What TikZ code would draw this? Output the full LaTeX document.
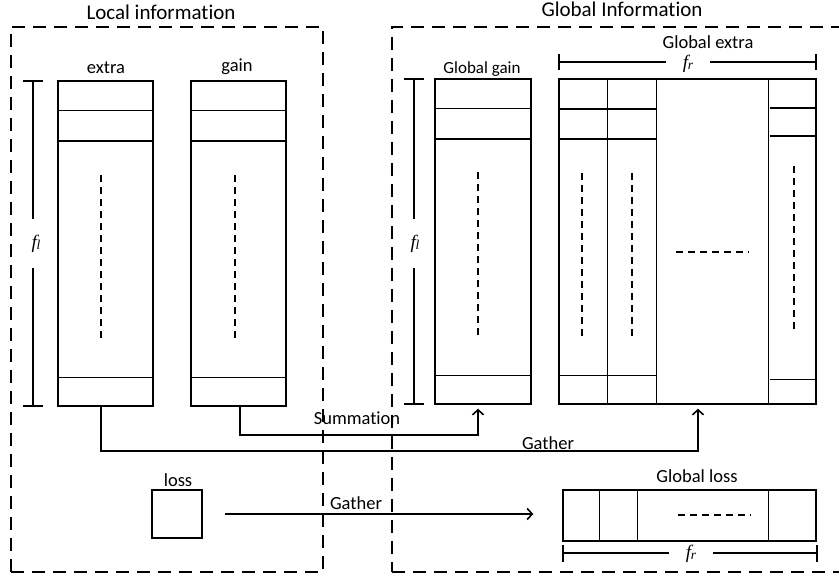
\documentclass[tikz,border=0pt]{standalone}
\usepackage{fontspec}
\setmainfont{Carlito}[Ligatures=NoCommon]
\newfontfamily\seriffont{Liberation Serif}
\usetikzlibrary{arrows.meta}
\newcommand{\fsym}[1]{{\seriffont\itshape\fontsize{19}{19}\selectfont f\kern-0.5pt\raisebox{-1pt}{\fontsize{13.5}{13.5}\selectfont #1}}}
\begin{document}
\begin{tikzpicture}[x=1pt,y=-1pt,
  box/.style={draw, line width=1.5pt, inner sep=0pt},
  grp/.style={draw, line width=2pt, dash pattern=on 13pt off 8pt},
  dots/.style={line width=1.4pt, dash pattern=on 7pt off 5pt},
  ln/.style={line width=1.5pt},
  arr/.style={line width=1.6pt, -{Straight Barb[length=5pt,width=11pt,line width=1.6pt]}},
  lbl/.style={font=\fontsize{18.5}{20}\selectfont, inner sep=0pt, anchor=base},
  ttl/.style={font=\fontsize{21}{23}\selectfont, inner sep=0pt, anchor=base},
  vlbl/.style={fill=white, inner sep=0pt, minimum width=16pt, minimum height=49pt},
  hlbl/.style={fill=white, inner sep=0pt, minimum width=44pt, minimum height=6pt},
]
\useasboundingbox (0,0) rectangle (839,577);
\clip (0,0) rectangle (839,577);

% group frames
\node[grp, minimum width=312pt, minimum height=545pt] (local) at (167,299.5) {};
\node[grp, minimum width=468pt, minimum height=545pt] (global) at (626,299.5) {};
\node[ttl] (tlocal) at (161,20) {Local information};
\node[ttl] (tglobal) at (622,17) {Global Information};

% columns
\node[box, minimum width=95pt, minimum height=325pt] (extra) at (105.5,243.5) {};
\node[box, minimum width=95pt, minimum height=325pt] (gain) at (238.5,243.5) {};
\node[box, minimum width=96pt, minimum height=325pt] (ggain) at (483,241.5) {};
\node[box, minimum width=257pt, minimum height=325pt] (gextra) at (687.5,241.5) {};

\foreach \n in {extra,gain,ggain}{
  \draw[ln] ([yshift=-30.5pt]\n.north west) -- ([yshift=-30.5pt]\n.north east);
  \draw[ln] ([yshift=-61pt]\n.north west) -- ([yshift=-61pt]\n.north east);
  \draw[ln] ([yshift=29pt]\n.south west) -- ([yshift=29pt]\n.south east);
}

% global extra sub-columns
\draw[ln] ([xshift=49pt]gextra.north west) -- ([xshift=49pt]gextra.south west);
\draw[ln] ([xshift=98pt]gextra.north west) -- ([xshift=98pt]gextra.south west);
\draw[ln] ([xshift=210pt]gextra.north west) -- ([xshift=210pt]gextra.south west);
\draw[ln] ([yshift=-31pt]gextra.north west) -- ([xshift=98pt,yshift=-31pt]gextra.north west);
\draw[ln] ([yshift=-61pt]gextra.north west) -- ([xshift=98pt,yshift=-61pt]gextra.north west);
\draw[ln] ([yshift=29pt]gextra.south west) -- ([xshift=98pt,yshift=29pt]gextra.south west);
\draw[ln] ([xshift=-47pt,yshift=-30pt]gextra.north east) -- ([yshift=-30pt]gextra.north east);
\draw[ln] ([xshift=-47pt,yshift=-58pt]gextra.north east) -- ([yshift=-58pt]gextra.north east);
\draw[ln] ([xshift=-47pt,yshift=25pt]gextra.south east) -- ([yshift=25pt]gextra.south east);

% ellipsis dashes
\draw[dots] (101,175) -- (101,338);
\draw[dots] (235,175) -- (235,338);
\draw[dots] (478,172) -- (478,337);
\draw[dots] (582,173) -- (582,337);
\draw[dots] (632,173) -- (632,337);
\draw[dots] (794,166) -- (794,330);
\draw[dots] (676,252) -- (749,252);

% column labels
\node[lbl] (lextra) at (106,74) {extra};
\node[lbl] (lgain) at (237,72) {gain};
\node[lbl, font=\fontsize{17}{19}\selectfont] (lggain) at (482,74) {Global gain};
\node[lbl] (lgextra) at (708,49) {Global extra};

% dimensions
\draw[ln] (23,81) -- (43,81);
\draw[ln] (23,406) -- (43,406);
\draw[ln] (33,81) -- (33,406);
\node[vlbl] (fl1) at (36,244) {\fsym{l}};

\draw[ln] (404,79) -- (424,79);
\draw[ln] (404,404) -- (424,404);
\draw[ln] (414,79) -- (414,404);
\node[vlbl] (fl2) at (415,244) {\fsym{l}};

\draw[ln] (559,54) -- (559,70);
\draw[ln] (816,54) -- (816,70);
\draw[ln] (559,62) -- (816,62);
\node[hlbl] (fr1) at (688,63.5) {\fsym{r}};

% loss
\node[box, minimum width=50pt, minimum height=48pt] (loss) at (177,514) {};
\node[lbl] (lloss) at (178,487) {loss};
\node[box, minimum width=253pt, minimum height=51pt] (gloss) at (689.5,515.5) {};
\node[lbl] (lgloss) at (697,483) {Global loss};
\draw[ln] ([xshift=37pt]gloss.north west) -- ([xshift=37pt]gloss.south west);
\draw[ln] ([xshift=75pt]gloss.north west) -- ([xshift=75pt]gloss.south west);
\draw[ln] ([xshift=206pt]gloss.north west) -- ([xshift=206pt]gloss.south west);
\draw[dots] (678,515) -- (751,515);

\draw[ln] (563,545) -- (563,562);
\draw[ln] (817,545) -- (817,562);
\draw[ln] (563,553) -- (817,553);
\node[hlbl] (fr2) at (691,554) {\fsym{r}};

% connectors
\draw[arr] ([xshift=-4.5pt]extra.south) -- ++(0,44) -| ([xshift=10.5pt,yshift=-4pt]gextra.south);
\draw[arr] ([xshift=1.5pt]gain.south) -- ++(0,28) -| ([xshift=-5pt,yshift=-4pt]ggain.south);
\draw[arr, shorten <=22pt, shorten >=29pt] (loss.east) -- (loss.east -| gloss.west);

\node[lbl] (lsum) at (357,425) {Summation};
\node[lbl] (lgat1) at (548,450) {Gather};
\node[lbl] (lgat2) at (356,510) {Gather};
\end{tikzpicture}
\end{document}
